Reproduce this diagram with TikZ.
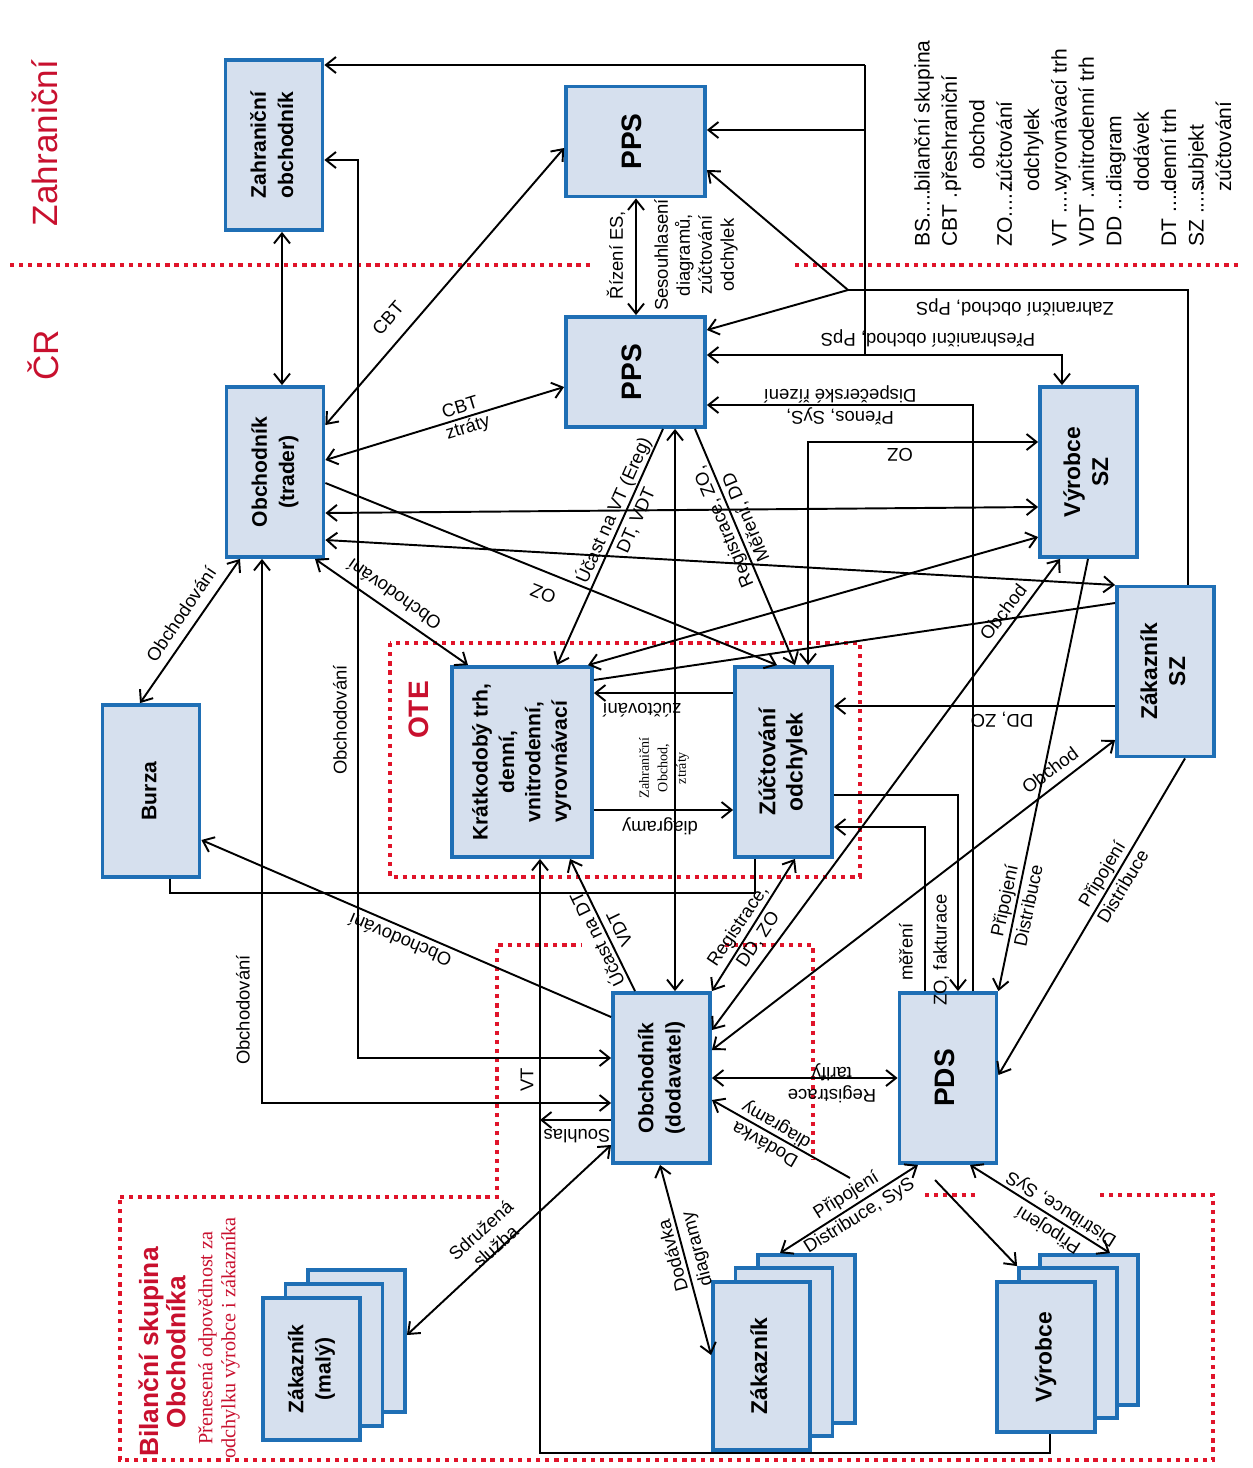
\documentclass[tikz,border=0pt]{standalone}
\usepackage{fontspec}
\setmainfont{Liberation Sans}
\newfontfamily\timesf{Liberation Serif}
\usetikzlibrary{arrows.meta,calc}
\definecolor{boxBlue}{HTML}{1F6FB5}
\definecolor{boxFill}{HTML}{D6E0EE}
\definecolor{titleRed}{HTML}{C8102E}
\definecolor{dotRed}{HTML}{E0142A}
\newcommand{\vtxt}[1]{\rotatebox{90}{\begin{tabular}{@{}c@{}}#1\end{tabular}}}
\tikzset{
  >={Straight Barb[length=2mm,width=3.2mm]},
  box/.style={draw=boxBlue, fill=boxFill, line width=2.2pt, inner sep=0pt,
              font=\bfseries\fontsize{12}{15.5}\selectfont},
  vbox/.style={box, minimum width=1.94cm, minimum height=3.4cm},
  wbox/.style={box, minimum width=2.78cm, minimum height=2.2cm,
               font=\bfseries\fontsize{16}{18}\selectfont},
  lnk/.style={line width=1.1pt},
  lab/.style={font=\fontsize{10.5}{12.5}\selectfont, inner sep=1pt, align=center},
  wlab/.style={lab, font=\fontsize{10.5}{14}\selectfont},
  reddot/.style={draw=dotRed, line width=2.4pt, dash pattern=on 2.4pt off 2.8pt},
  regtitle/.style={text=titleRed, rotate=90, align=center, inner sep=0pt},
}
\begin{document}
\begin{tikzpicture}[x=0.02cm, y=-0.02cm]
\useasboundingbox (0,0) rectangle (1253,1468);

% hranice a skupiny
\draw[reddot] (10,265) -- (590,265);
\draw[reddot] (795,265) -- (1240,265);
\draw[reddot] (390,643) rectangle (860,877);
\draw[reddot] (120,1197) -- (497,1197) -- (497,945) -- (582,945);
\draw[reddot] (725,945) -- (813,945) -- (813,1160);
\draw[reddot] (925,1195) -- (978,1195);
\draw[reddot] (1100,1195) -- (1213,1195) -- (1213,1460) -- (120,1460) -- (120,1197);

\node[regtitle, font=\fontsize{20}{24}\selectfont] (tZahr) at (45,143) {Zahraniční};
\node[regtitle, font=\fontsize{20}{24}\selectfont] (tCR) at (43,355) {ČR};
\node[regtitle, font=\bfseries\fontsize{16}{18}\selectfont] (tOTE) at (419,710) {OTE};
\node[regtitle, font=\bfseries\fontsize{15}{15.5}\selectfont] (tBS) at (162,1352) {Bilanční skupina\\Obchodníka};
\node[regtitle, font=\timesf\fontsize{11.5}{13}\selectfont] (tBSsub) at (219,1338)
  {Přenesená odpovědnost za\\odchylku výrobce i zákazníka};

% legenda
\node[rotate=90, anchor=north west, inner sep=0pt, font=\fontsize{12}{15.6}\selectfont] (legend) at (910,247) {%
\begin{tabular}{@{}l@{}l@{}}
\makebox[1.1cm][l]{BS......}&bilanční skupina\\
\makebox[1.1cm][l]{CBT ...}&přeshraniční\\
&\hspace{0.45cm}obchod\\
\makebox[1.1cm][l]{ZO.......}&zúčtování\\
&odchylek\\
\makebox[1.1cm][l]{VT .......}&vyrovnávací trh\\
\makebox[1.1cm][l]{VDT ...}&vnitrodenní trh\\
\makebox[1.1cm][l]{DD ....}&diagram\\
&dodávek\\
\makebox[1.1cm][l]{DT .....}&denní trh\\
\makebox[1.1cm][l]{SZ ......}&subjekt\\
&zúčtování
\end{tabular}};

% uzly
\node[vbox] (zo) at (274,145) {\vtxt{Zahraniční\\obchodník}};
\node[vbox] (trader) at (275,472) {\vtxt{Obchodník\\(trader)}};
\node[vbox, minimum height=3.44cm] (burza) at (151,791) {\vtxt{Burza}};
\node[wbox] (ppsA) at (635.5,141.5) {\vtxt{PPS}};
\node[wbox] (ppsB) at (635.5,372) {\vtxt{PPS}};
\node[vbox, font=\bfseries\fontsize{13}{16}\selectfont] (vyrSZ) at (1088.5,472) {\vtxt{Výrobce\\SZ}};
\node[vbox, font=\bfseries\fontsize{13}{16}\selectfont] (zakSZ) at (1165.5,671.5) {\vtxt{Zákazník\\SZ}};
\node[box, minimum width=2.8cm, minimum height=3.8cm, font=\bfseries\fontsize{12}{15}\selectfont] (kratko) at (522,762)
  {\vtxt{Krátkodobý trh,\\denní,\\vnitrodenní,\\vyrovnávací}};
\node[box, minimum width=1.94cm, minimum height=3.8cm, font=\bfseries\fontsize{13}{15.5}\selectfont] (zuct) at (783.5,762)
  {\vtxt{Zúčtování\\odchylek}};
\node[vbox] (dodav) at (661.5,1078) {\vtxt{Obchodník\\(dodavatel)}};
\node[vbox, font=\bfseries\fontsize{16}{18}\selectfont] (pds) at (948,1078) {\vtxt{PDS}};

% stohy
\node[box, minimum width=1.94cm, minimum height=2.84cm] (zakMc) at (356.5,1341) {};
\node[box, minimum width=1.94cm, minimum height=2.84cm] (zakMb) at (334,1355) {};
\node[box, minimum width=1.94cm, minimum height=2.84cm] (zakM) at (311.5,1369) {\vtxt{Zákazník\\(malý)}};
\node[box, minimum width=1.94cm, minimum height=3.36cm] (zakc) at (806.5,1339) {};
\node[box, minimum width=1.94cm, minimum height=3.36cm] (zakb) at (784,1352) {};
\node[box, minimum width=1.94cm, minimum height=3.36cm, font=\bfseries\fontsize{13}{16}\selectfont] (zak) at (761.5,1366) {\vtxt{Zákazník}};
\node[box, minimum width=1.96cm, minimum height=3cm] (vyrc) at (1089,1330) {};
\node[box, minimum width=1.96cm, minimum height=3cm] (vyrb) at (1068,1343) {};
\node[box, minimum width=1.96cm, minimum height=3cm, font=\bfseries\fontsize{13}{16}\selectfont] (vyr) at (1046,1357) {\vtxt{Výrobce}};

% sbernice k zahranici
\coordinate (busTop) at (865,65);
\coordinate (busBot) at (865,355);
\draw[lnk,->] (busTop) -- (zo.east |- busTop);
\draw[lnk] (busTop) -- (busBot);
\draw[lnk,->] (busTop |- 0,130) -- (ppsA.east |- 0,130);
\draw[lnk,<->] (ppsB.east |- busBot) -| (vyrSZ.north -| 1062,0);
\node[lab, rotate=180] (lPpsB) at (928,338) {Přeshraniční obchod, PpS};

\coordinate (fork) at (848,290);
\draw[lnk] (zakSZ.north -| 1188,0) |- (fork);
\draw[lnk,->] (fork) -- (ppsA.east |- 0,170);
\draw[lnk,->] (fork) -- (ppsB.east |- 0,330);
\node[lab, rotate=180] (lPpsA) at (1015,307) {Zahraniční obchod, PpS};

% PPS - PPS
\draw[lnk,<->] (ppsA.south -| 636,0) -- (ppsB.north -| 636,0);
\node[lab, rotate=90] (lRizeni) at (616,255) {Řízení ES,};
\node[lab, rotate=90] (lSesouhl) at (696,255) {Sesouhlasení\\diagramů,\\zúčtování\\odchylek};

% obchodnik (trader)
\draw[lnk,<->] (zo.south -| 282,0) -- (trader.north -| 282,0);
\draw[lnk,<->] (zo.east |- 0,160) -| (358,1058) -- (dodav.west |- 0,1058);
\node[lab, rotate=90] (lObch1) at (340,720) {Obchodování};
\draw[lnk,<->] (trader.east |- 0,425) -- (ppsA.west |- 0,148);
\node[lab, rotate=49] (lCBTa) at (388,318) {CBT};
\draw[lnk,<->] (trader.east |- 0,460) -- (ppsB.west |- 0,387);
\node[lab, rotate=17] (lCBTb) at (460,407) {CBT};
\node[lab, rotate=17] (lZtr) at (468,428) {ztráty};
\draw[lnk,<->] (trader.east |- 0,513) -- (vyrSZ.west |- 0,507);
\draw[lnk,<->] (trader.east |- 0,540) -- (zakSZ.west |- 0,585);
\draw[lnk,->] (trader.east |- 0,483) -- (zuct.north -| 777,0);
\node[lab, rotate=158] (lOZa) at (543,594) {OZ};
\draw[lnk,<->] (trader.south -| 262,0) |- (dodav.west |- 0,1103);
\node[lab, rotate=90] (lObch2) at (243,1010) {Obchodování};
\draw[lnk,<->] (trader.south -| 240,0) -- (burza.north -| 140,0);
\node[lab, rotate=56] (lObch3) at (181,614) {Obchodování};
\draw[lnk,<->] (trader.south -| 315,0) -- (kratko.north -| 468,0);
\node[lab, rotate=145] (lObch4) at (394,595) {Obchodování};

% vyrobce SZ
\draw[lnk,<->] (vyrSZ.west |- 0,442) -| (zuct.north -| 808,0);
\node[lab, rotate=180] (lOZb) at (900,455) {OZ};
\draw[lnk,<->] (vyrSZ.west |- 0,537) -- (kratko.north -| 588,0);
\draw[lnk] (zakSZ.west |- 0,603) -- (kratko.east |- 0,680);

% PPS dolu
\draw[lnk,->] (ppsB.south -| 663,0) -- (kratko.north -| 557,0);
\node[wlab, rotate=66] (lUcastVT) at (624,515) {Účast na VT (Ereg)\\DT, VDT};
\draw[lnk,<->] (ppsB.south -| 675,0) -- (dodav.north -| 675,0);
\draw[lnk,->] (ppsB.south -| 695,0) -- (zuct.north -| 795,0);
\node[wlab, rotate=113] (lRegZO) at (735,522) {Registrace, ZO,\\Měření, DD};

% OTE
\draw[lnk,->] (zuct.west |- 0,693) -- (kratko.east |- 0,693);
\node[lab, rotate=180] (lZuct) at (642,710) {zúčtování};
\draw[lnk,->] (kratko.east |- 0,810) -- (zuct.west |- 0,810);
\node[lab, rotate=180] (lDiag) at (660,826) {diagramy};
\node[font=\timesf\fontsize{8}{10.5}\selectfont, rotate=90, align=center, inner sep=0pt] (lZahrObch) at (664,768)
  {Zahraniční\\Obchod,\\ztráty};
\draw[lnk,->] (zakSZ.west |- 0,706) -- (zuct.east |- 0,706);
\node[lab, rotate=180] (lDDZO) at (1002,720) {DD, ZO};

% PDS
\draw[lnk,->] (zuct.east |- 0,795) -| (pds.north -| 958,0);
\node[lab, rotate=90] (lZOfakt) at (941,950) {ZO, fakturace};
\draw[lnk,->] (pds.north -| 925,0) |- (zuct.east |- 0,827);
\node[lab, rotate=90] (lMereni) at (906,952) {měření};
\draw[lnk,->] (pds.north -| 973,0) |- (ppsB.east |- 0,405);
\node[lab, rotate=180] (lPrenos) at (840,405) {Přenos, SyS,\\Dispečerské řízení};
\draw[lnk,->] (vyrSZ.south -| 1088,0) -- (pds.north east);
\node[wlab, rotate=78] (lPripA) at (1016,903) {Připojení\\Distribuce};
\draw[lnk,->] (zakSZ.south -| 1185,0) -- (pds.east |- 0,1075);
\node[wlab, rotate=59] (lPripB) at (1112,880) {Připojení\\Distribuce};

% obchodnik (dodavatel)
\draw[lnk,<->] (dodav.east |- 0,1030) -- (vyrSZ.south -| 1060,0);
\node[lab, rotate=53] (lObchA) at (1003,612) {Obchod};
\draw[lnk,<->] (dodav.east |- 0,1050) -- (zakSZ.west |- 0,740);
\node[lab, rotate=37] (lObchB) at (1050,770) {Obchod};
\draw[lnk,<->] (dodav.east |- 0,1078) -- (pds.west |- 0,1078);
\node[lab, rotate=180] (lRegTar) at (832,1083) {Registrace\\tarify};
\coordinate (ddEnd) at (850,1178);
\draw[lnk,->] (ddEnd) -- (dodav.east |- 0,1100);
\node[lab, rotate=150] (lDodA) at (771,1134) {Dodávka\\diagramy};
\draw[lnk,<->] (zuct.south -| 795,0) -- (dodav.north east);
\node[wlab, rotate=56] (lRegDD) at (748,933) {Registrace,\\DD, ZO};
\draw[lnk,->] (dodav.north -| 635,0) -- (kratko.south -| 570,0);
\node[wlab, rotate=116] (lUcastDT) at (607,935) {Účast na DT\\VDT};
\draw[lnk,->] (dodav.west |- 0,1017) -- (burza.east |- 0,840);
\node[lab, rotate=157] (lObch5) at (400,940) {Obchodování};
\draw[lnk] (burza.south -| 170,0) -- (170,893) -| (zuct.south -| 755,0);

% VT a souhlas
\draw[lnk,->] (vyr.south -| 1050,0) -- (1050,1453) -| (kratko.south -| 540,0);
\node[lab, rotate=90] (lVT) at (527,1080) {VT};
\coordinate (souhlEnd) at (540,1120);
\draw[lnk,->] (dodav.west |- souhlEnd) -- (souhlEnd);
\node[lab, rotate=180] (lSouhl) at (577,1136) {Souhlas};

% bilancni skupina
\draw[lnk,<->] (dodav.west |- 0,1145) -- (zakMc.east |- 0,1335);
\node[lab, rotate=42] (lSdruz) at (488,1238) {Sdružená\\služba};
\draw[lnk,<->] (dodav.south -| 660,0) -- (zak.west |- 0,1355);
\node[wlab, rotate=105] (lDodB) at (686,1252) {Dodávka\\diagramy};
\draw[lnk,<->] (pds.south -| 918,0) -- (zakc.north -| 780,0);
\node[wlab, rotate=32] (lPripC) at (853,1206) {Připojení\\Distribuce, SyS};
\coordinate (vyrStart) at (935,1180);
\draw[lnk,->] (vyrStart) -- (vyrb.north west);
\draw[lnk,<->] (pds.south -| 970,0) -- (vyrc.north -| 1110,0);
\node[wlab, rotate=148] (lPripD) at (1055,1219) {Připojení\\Distribuce, SyS};
\end{tikzpicture}
\end{document}
